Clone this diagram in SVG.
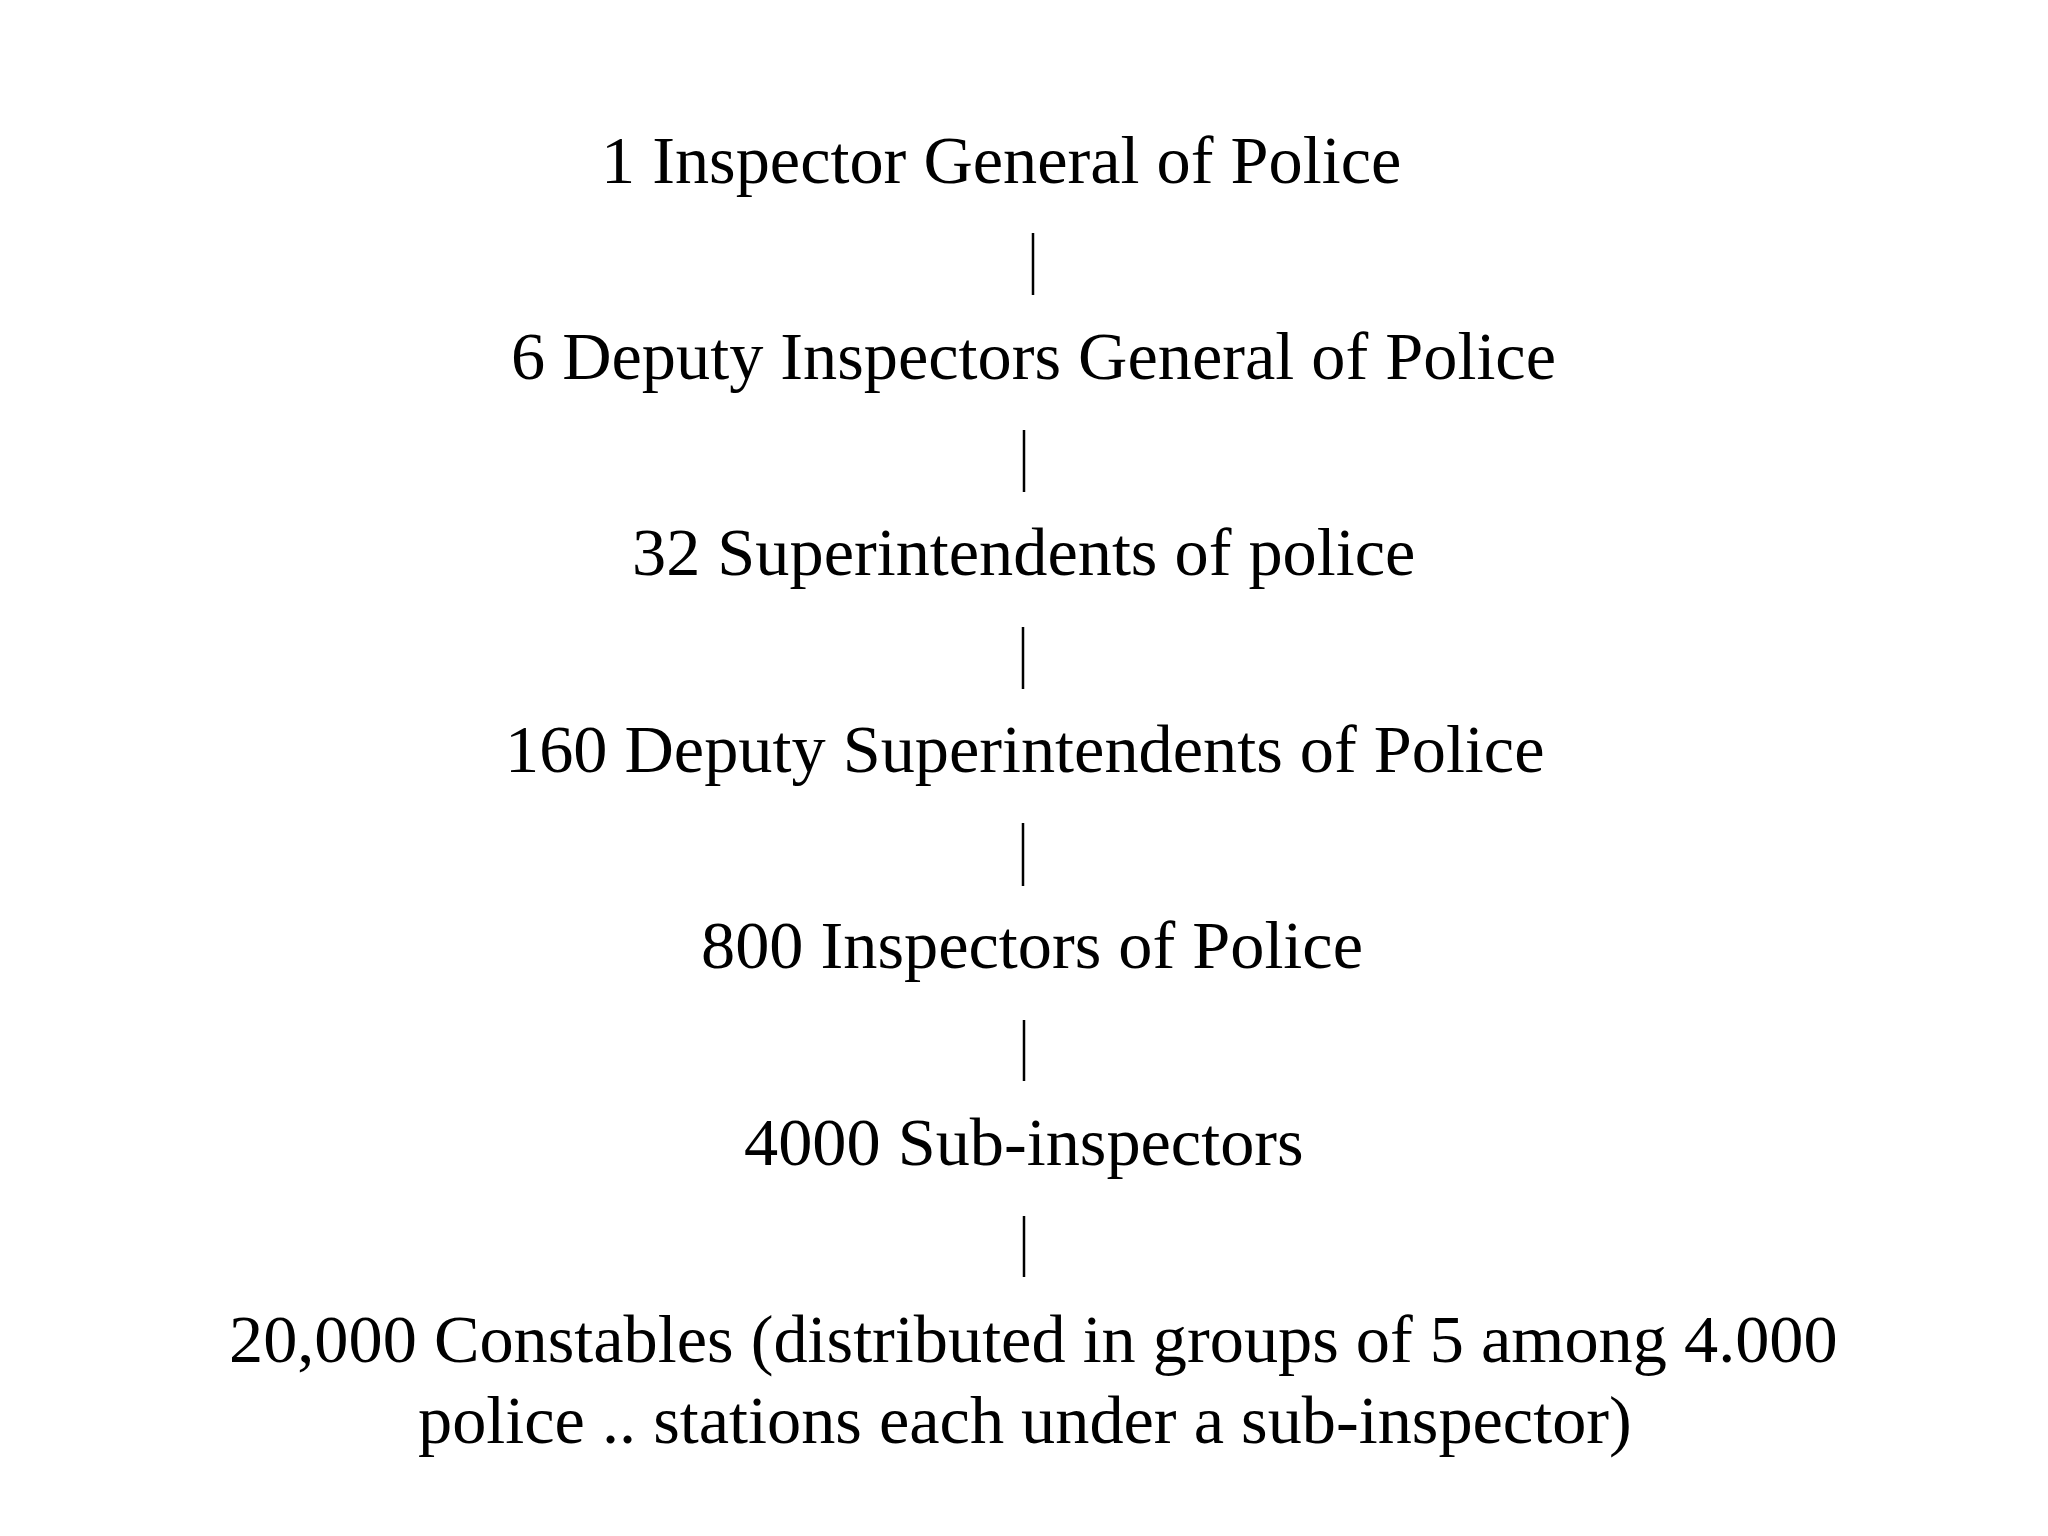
<svg xmlns="http://www.w3.org/2000/svg" width="2048" height="1536" viewBox="0 0 2048 1536">
<style>
.t{font-family:"Liberation Serif","Times New Roman",serif;font-size:68.3px;fill:#000}
.c{stroke:#000;stroke-width:2.5;fill:none}
</style>
<rect width="2048" height="1536" fill="#fff"/>
<g id="n1"><text class="t" x="601" y="183">1 Inspector General of Police</text></g>
<g id="n2"><text class="t" x="511" y="379">6 Deputy Inspectors General of Police</text></g>
<g id="n3"><text class="t" x="632" y="575">32 Superintendents of police</text></g>
<g id="n4"><text class="t" x="505" y="772">160 Deputy Superintendents of Police</text></g>
<g id="n5"><text class="t" x="701" y="968">800 Inspectors of Police</text></g>
<g id="n6"><text class="t" x="744" y="1165">4000 Sub-inspectors</text></g>
<g id="n7"><text class="t" x="229" y="1362">20,000 Constables (distributed in groups of 5 among 4.000</text><text class="t" x="418" y="1443">police .. stations each under a sub-inspector)</text></g>
<g id="connectors">
<line class="c" x1="1033" y1="233" x2="1033" y2="295"/>
<line class="c" x1="1024" y1="430" x2="1024" y2="492"/>
<line class="c" x1="1023" y1="627" x2="1023" y2="689"/>
<line class="c" x1="1023" y1="823" x2="1023" y2="886"/>
<line class="c" x1="1024" y1="1020" x2="1024" y2="1081"/>
<line class="c" x1="1024" y1="1216" x2="1024" y2="1277"/>
</g>
</svg>
